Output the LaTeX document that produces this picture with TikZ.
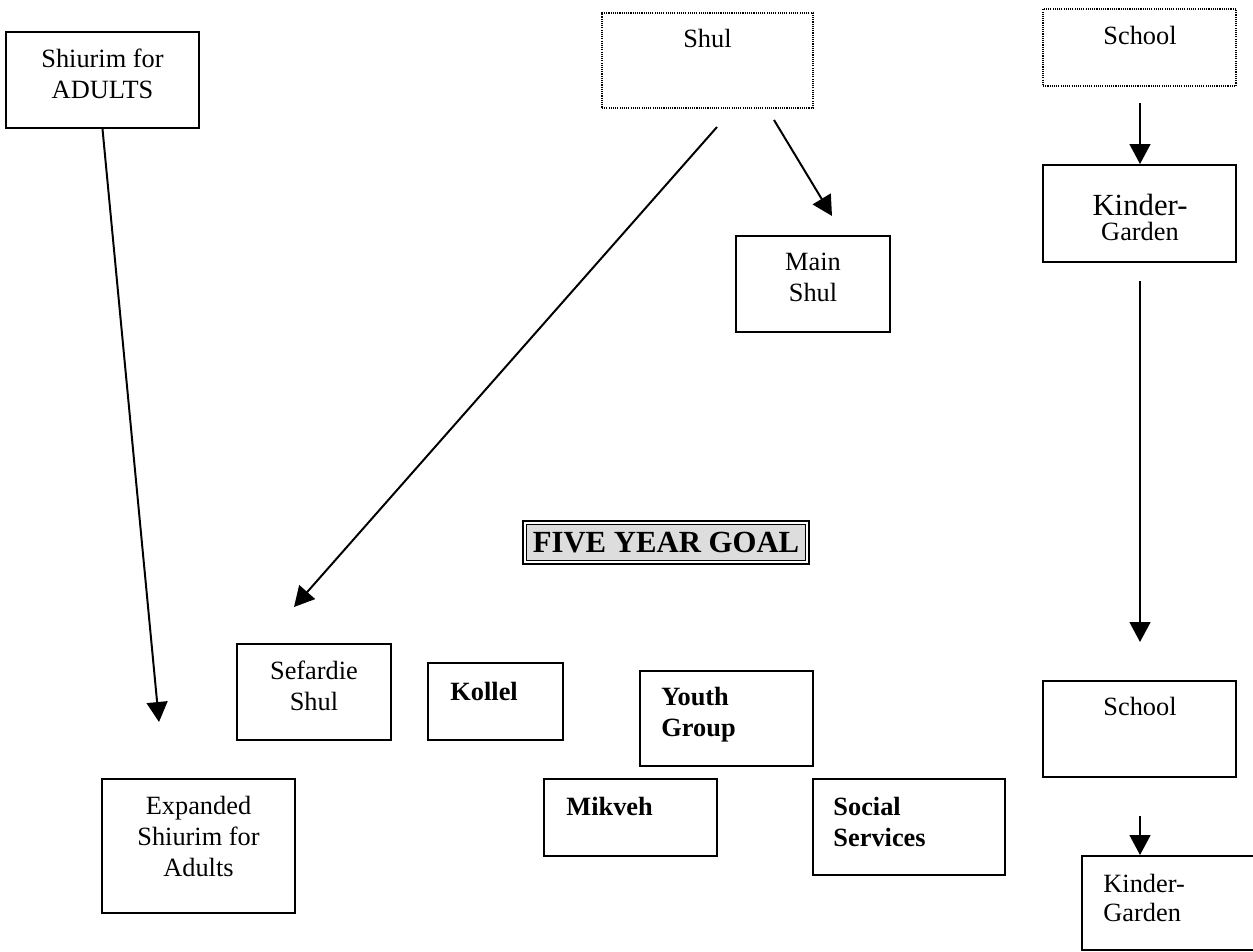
\documentclass[tikz,border=0pt]{standalone}
\usepackage{fontspec}
\setmainfont{Liberation Serif}
\usetikzlibrary{arrows.meta}
\definecolor{goalgray}{HTML}{DDDDDD}
\tikzset{
	box/.style 2 args={draw,line width=0.9pt,inner sep=0pt,minimum width=#1*0.016cm,minimum height=#2*0.016cm},
	dotbox/.style={line width=0.8pt,dash pattern=on 0.5pt off 0.5pt},
	txt/.style={inner sep=0pt,anchor=base,align=center,font=\fontsize{12}{14.1}\selectfont},
	btxt/.style={inner sep=0pt,anchor=base west,align=left,font=\fontsize{12}{14.1}\selectfont\bfseries},
	arr/.style={line width=0.9pt,-{Triangle[length=9.1pt,width=9.5pt]}},
	goal/.style={draw,line width=1.3pt,inner sep=0pt,minimum width=286*0.016cm,minimum height=43*0.016cm,
		font=\fontsize{14}{16}\selectfont\bfseries,text height=9.5pt,text depth=0pt,
		path picture={\draw[line width=0.5pt,fill=goalgray] ([shift={(1.4pt,-1.4pt)}]path picture bounding box.north west) rectangle ([shift={(-1.4pt,1.4pt)}]path picture bounding box.south east);}}
}
\begin{document}
\begin{tikzpicture}[x=0.016cm,y=-0.016cm]
		\useasboundingbox (0,0) rectangle (1253,951);
		\clip (0,0) rectangle (1253,951);
		% top row (text nodes sit on the baseline of their last line)
		\node[box={193}{96}] (shiurim) at (102.5,80) {};
		\node[txt] (shiurim-t) at (102.5,98) {Shiurim for\\ADULTS};
		\node[box={211}{95},dotbox] (shul) at (707.5,60.5) {};
		\node[txt] (shul-t) at (707.5,47.7) {Shul};
		\node[box={193}{77},dotbox] (school) at (1139.5,47.5) {};
		\node[txt] (school-t) at (1140,44) {School};
		\node[box={193}{97}] (kinder) at (1139.5,213.5) {};
		\node[txt,font=\fontsize{14}{16}\selectfont] (kinder-t) at (1140,215.5) {Kinder-};
		\node[txt] (garden-t) at (1140,240) {Garden};
		\node[box={154}{96}] (mainshul) at (813,284) {};
		\node[txt] (mainshul-t) at (813,301.7) {Main\\Shul};
		% middle
		\node[goal] (goal) at (666,542.5) {FIVE YEAR GOAL};
		% bottom row
		\node[box={154}{96}] (sefardie) at (314,692) {};
		\node[txt] (sefardie-t) at (314,710.7) {Sefardie\\Shul};
		\node[box={135}{77}] (kollel) at (495.5,701.5) {};
		\node[btxt] (kollel-t) at (450,700.7) {Kollel};
		\node[box={173}{95}] (youth) at (726.5,718.5) {};
		\node[btxt] (youth-t) at (661,736.7) {Youth\\Group};
		\node[box={173}{77}] (mikveh) at (630.5,817.5) {};
		\node[btxt] (mikveh-t) at (566,815) {Mikveh};
		\node[box={192}{96}] (social) at (909,827) {};
		\node[btxt] (social-t) at (833,846) {Social\\Services};
		\node[box={193}{134}] (expanded) at (198.5,846) {};
		\node[txt] (expanded-t) at (198.5,876) {Expanded\\Shiurim for\\Adults};
		\node[box={193}{96}] (school2) at (1139.5,729) {};
		\node[txt] (school2-t) at (1140,715) {School};
		\node[box={208}{94}] (kinder2) at (1186,903) {};
		\node[txt,anchor=base west,align=left,font=\fontsize{12}{13.2}\selectfont] (kinder2-t) at (1103,921.7) {Kinder-\\Garden};
		% arrows
		\coordinate (adults-tip) at (159,722);
		\coordinate (shul-l) at (717,127);
		\coordinate (sefardie-tip) at (294,607);
		\coordinate (shul-r) at (774,120);
		\coordinate (main-tip) at (832,216);
		\coordinate (school-s) at (1140,103);
		\coordinate (kinder-n) at (1140,164);
		\coordinate (kinder-s) at (1140,281);
		\coordinate (school2-n) at (1140,642);
		\coordinate (school2-s) at (1140,816);
		\coordinate (kinder2-n) at (1140,855);
		\draw[arr] (shiurim.south) -- (adults-tip);
		\draw[arr] (shul-l) -- (sefardie-tip);
		\draw[arr] (shul-r) -- (main-tip);
		\draw[arr] (school-s) -- (kinder-n);
		\draw[arr] (kinder-s) -- (school2-n);
		\draw[arr] (school2-s) -- (kinder2-n);
	\end{tikzpicture}
\end{document}
